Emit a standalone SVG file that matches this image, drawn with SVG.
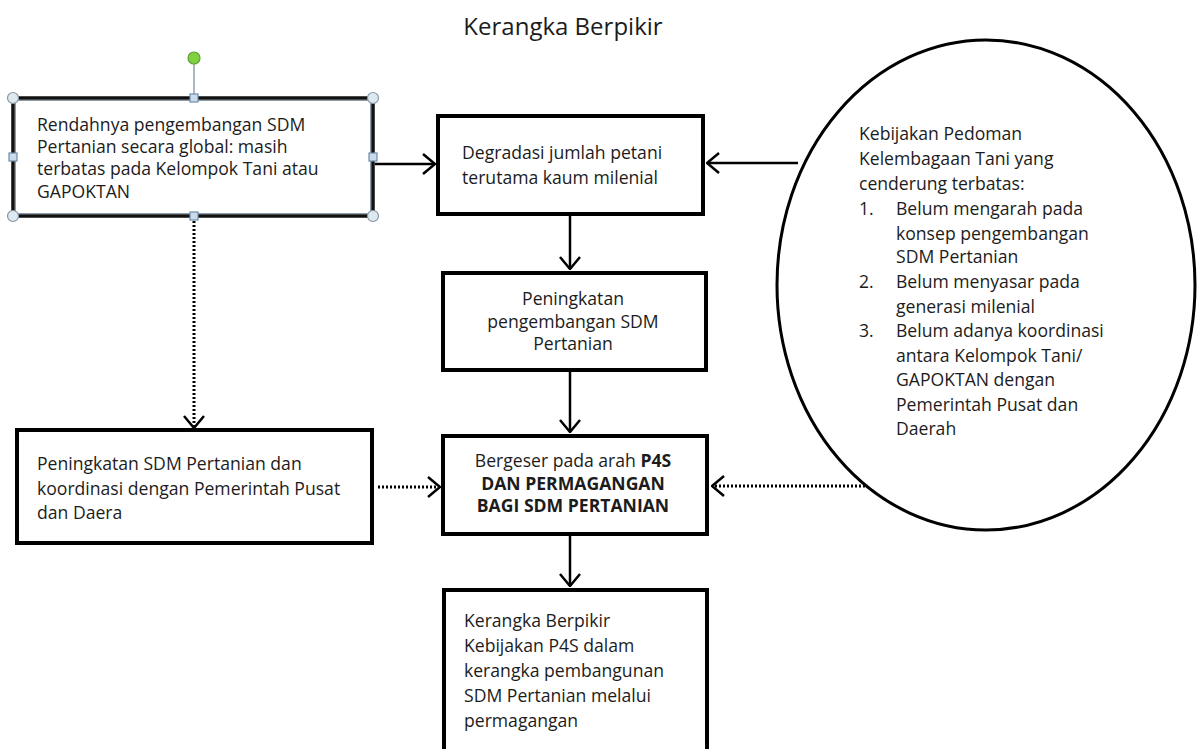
<svg xmlns="http://www.w3.org/2000/svg" width="1197" height="749" viewBox="0 0 1197 749">
<defs>
<style>
.t{font-family:"Open Sans","Noto Sans","Liberation Sans",sans-serif;font-size:17.6px;fill:#1c1c1c}
.b{font-weight:bold}
.box{fill:#fff;stroke:#000;stroke-width:4}
.ln{fill:none;stroke:#000;stroke-width:2.5}
.dot{fill:none;stroke:#000;stroke-width:3;stroke-dasharray:2 2}
.hc{fill:#dde8ef;stroke:#8796a4;stroke-width:1.2}
.hs{fill:#cadcec;stroke:#6f8ca8;stroke-width:1.2}
</style>
<marker id="ah" viewBox="0 0 14 22" refX="13" refY="11" markerWidth="14" markerHeight="22" markerUnits="userSpaceOnUse" orient="auto">
<path d="M1,1 L13,11 L1,21" fill="none" stroke="#000" stroke-width="2.5"/>
</marker>
</defs>
<rect width="1197" height="749" fill="#fff"/>
<text class="t" x="563" y="35" text-anchor="middle" style="font-size:24px">Kerangka Berpikir</text>

<g id="connectors">
<line class="ln" x1="375" y1="164" x2="435" y2="164" marker-end="url(#ah)"/>
<line class="ln" x1="798" y1="163" x2="707" y2="163" marker-end="url(#ah)"/>
<line class="ln" x1="570" y1="215" x2="570" y2="269" marker-end="url(#ah)"/>
<line class="ln" x1="570" y1="372" x2="570" y2="432" marker-end="url(#ah)"/>
<line class="ln" x1="570" y1="535" x2="570" y2="586" marker-end="url(#ah)"/>
<line class="dot" x1="194" y1="221" x2="194" y2="428" marker-end="url(#ah)"/>
<line class="dot" x1="378" y1="487" x2="440" y2="487" marker-end="url(#ah)"/>
<line class="dot" x1="865" y1="486" x2="712" y2="486" marker-end="url(#ah)"/>
</g>

<g id="node-rendahnya">
<rect x="13" y="98" width="360" height="118" fill="#fff" stroke="#111" stroke-width="3.5"/>
<rect x="15.5" y="100.5" width="355" height="113" fill="none" stroke="#8a9bb0" stroke-width="1"/>
<text class="t" x="37" y="131">Rendahnya pengembangan SDM</text>
<text class="t" x="37" y="153">Pertanian secara global: masih</text>
<text class="t" x="37" y="175">terbatas pada Kelompok Tani atau</text>
<text class="t" x="37" y="198">GAPOKTAN</text>
<line x1="194" y1="64" x2="194" y2="95" stroke="#7d90a4" stroke-width="1.3"/>
<circle cx="194" cy="58" r="6" fill="#7fd23e" stroke="#5f9e38" stroke-width="1.2"/>
<circle class="hc" cx="13" cy="98" r="5.5"/>
<circle class="hc" cx="373" cy="98" r="5.5"/>
<circle class="hc" cx="13" cy="216" r="5.5"/>
<circle class="hc" cx="373" cy="216" r="5.5"/>
<rect class="hs" x="190" y="94" width="8" height="8"/>
<rect class="hs" x="190" y="212" width="8" height="8"/>
<rect class="hs" x="9" y="153" width="8" height="8"/>
<rect class="hs" x="369" y="153" width="8" height="8"/>
</g>

<g id="node-degradasi">
<rect class="box" x="438" y="116" width="265" height="98"/>
<text class="t" x="462" y="159">Degradasi jumlah petani</text>
<text class="t" x="462" y="184">terutama kaum milenial</text>
</g>

<g id="node-peningkatan">
<rect class="box" x="443" y="273" width="263" height="97"/>
<text class="t" x="573" y="305" text-anchor="middle">Peningkatan</text>
<text class="t" x="573" y="328" text-anchor="middle">pengembangan SDM</text>
<text class="t" x="573" y="350" text-anchor="middle">Pertanian</text>
</g>

<g id="node-bergeser">
<rect class="box" x="443" y="436" width="264" height="98"/>
<text class="t" x="573" y="467" text-anchor="middle">Bergeser pada arah <tspan class="b">P4S</tspan></text>
<text class="t b" x="573" y="490" text-anchor="middle">DAN PERMAGANGAN</text>
<text class="t b" x="573" y="512" text-anchor="middle">BAGI SDM PERTANIAN</text>
</g>

<g id="node-kerangka">
<rect class="box" x="444" y="590" width="263" height="175"/>
<text class="t" x="464" y="627">Kerangka Berpikir</text>
<text class="t" x="464" y="652">Kebijakan P4S dalam</text>
<text class="t" x="464" y="677">kerangka pembangunan</text>
<text class="t" x="464" y="702">SDM Pertanian melalui</text>
<text class="t" x="464" y="727">permagangan</text>
</g>

<g id="node-koordinasi">
<rect class="box" x="17" y="430" width="355" height="113"/>
<text class="t" x="37" y="470">Peningkatan SDM Pertanian dan</text>
<text class="t" x="37" y="495">koordinasi dengan Pemerintah Pusat</text>
<text class="t" x="37" y="519">dan Daera</text>
</g>

<g id="node-kebijakan">
<ellipse cx="986" cy="285" rx="209" ry="245" fill="#fff" stroke="#000" stroke-width="3"/>
<text class="t" x="859" y="140">Kebijakan Pedoman</text>
<text class="t" x="859" y="165">Kelembagaan Tani yang</text>
<text class="t" x="859" y="190">cenderung terbatas:</text>
<text class="t" x="859" y="215">1.</text>
<text class="t" x="896" y="215">Belum mengarah pada</text>
<text class="t" x="896" y="240">konsep pengembangan</text>
<text class="t" x="896" y="263">SDM Pertanian</text>
<text class="t" x="859" y="288">2.</text>
<text class="t" x="896" y="288">Belum menyasar pada</text>
<text class="t" x="896" y="313">generasi milenial</text>
<text class="t" x="859" y="337">3.</text>
<text class="t" x="896" y="337">Belum adanya koordinasi</text>
<text class="t" x="896" y="362">antara Kelompok Tani/</text>
<text class="t" x="896" y="386">GAPOKTAN dengan</text>
<text class="t" x="896" y="411">Pemerintah Pusat dan</text>
<text class="t" x="896" y="435">Daerah</text>
</g>
</svg>
